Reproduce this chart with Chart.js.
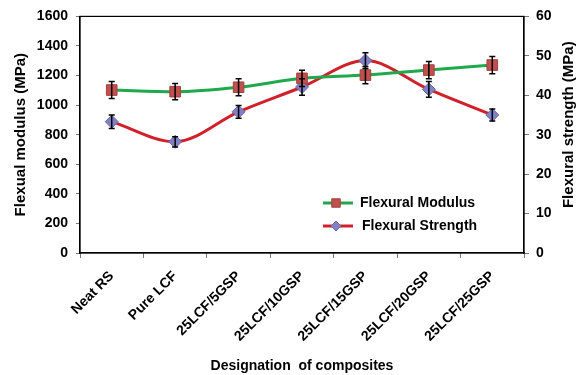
<!DOCTYPE html>
<html>
<head>
<meta charset="utf-8">
<script src="https://cdn.jsdelivr.net/npm/chart.js@4"></script>
<style>
  html, body { margin: 0; padding: 0; background: #fff; }
  #wrap { width: 576px; height: 375px; }
</style>
</head>
<body>
<div id="wrap"><canvas id="chart" width="576" height="375"></canvas></div>
<script>
const categories = ["Neat RS", "Pure LCF", "25LCF/5GSP", "25LCF/10GSP", "25LCF/15GSP", "25LCF/20GSP", "25LCF/25GSP"];
const modulus = [1102, 1091, 1121, 1181, 1203, 1237, 1271];
const modulusErr = [58, 55, 58, 55, 58, 58, 58];
const strength = [33.3, 28.2, 35.8, 42.1, 48.8, 41.5, 35.0];
const strengthErr = [1.7, 1.3, 1.6, 2.1, 2.0, 2.0, 1.5];

const FAMILY = "'Liberation Sans', Arial, sans-serif";
const font = { family: FAMILY, weight: "bold" };

// error bars, drawn with the chart's own scales
const errorBars = {
  id: "errorBars",
  afterDatasetsDraw(chart) {
    const ctx = chart.ctx;
    const x = chart.scales.x;
    const sets = [[modulus, modulusErr, chart.scales.y], [strength, strengthErr, chart.scales.y1]];
    ctx.save();
    ctx.strokeStyle = "#000";
    ctx.lineWidth = 1.5;
    sets.forEach(([vals, errs, sc]) => {
      vals.forEach((v, i) => {
        const px = x.getPixelForValue(i);
        const top = sc.getPixelForValue(v + errs[i]);
        const bot = sc.getPixelForValue(v - errs[i]);
        ctx.beginPath();
        ctx.moveTo(px, top); ctx.lineTo(px, bot);
        ctx.moveTo(px - 3, top); ctx.lineTo(px + 3, top);
        ctx.moveTo(px - 3, bot); ctx.lineTo(px + 3, bot);
        ctx.stroke();
      });
    });
    ctx.restore();
  }
};

// frame, legend inside the plot, right axis title (reads bottom-up)
const frameAndLegend = {
  id: "frameAndLegend",
  afterDraw(chart) {
    const { ctx, chartArea: a } = chart;
    ctx.save();
    ctx.strokeStyle = "#000";
    ctx.lineWidth = 1.2;
    ctx.strokeRect(a.left, a.top, a.right - a.left, a.bottom - a.top);

    const items = [
      { label: "Flexural Modulus", ds: chart.data.datasets[0], y: 203, r: 6, tx: 360 },
      { label: "Flexural Strength", ds: chart.data.datasets[1], y: 226, r: 5, tx: 362 }
    ];
    items.forEach(it => {
      const x0 = 323;
      ctx.strokeStyle = it.ds.borderColor;
      ctx.lineWidth = 3;
      ctx.beginPath();
      ctx.moveTo(x0, it.y); ctx.lineTo(x0 + 30, it.y);
      ctx.stroke();
      ctx.fillStyle = it.ds.pointBackgroundColor;
      ctx.strokeStyle = it.ds.pointBorderColor;
      ctx.lineWidth = 1;
      Chart.helpers.drawPoint(ctx, { pointStyle: it.ds.pointStyle, radius: it.r, borderWidth: 1 }, x0 + 13, it.y);
      ctx.fillStyle = "#000";
      ctx.font = "bold 14px " + FAMILY;
      ctx.textBaseline = "middle";
      ctx.textAlign = "left";
      ctx.fillText(it.label, it.tx, it.y);
    });

    ctx.translate(569, (a.top + a.bottom) / 2 - 10);
    ctx.rotate(-Math.PI / 2);
    ctx.fillStyle = "#000";
    ctx.font = "bold 15px " + FAMILY;
    ctx.textAlign = "center";
    ctx.textBaseline = "middle";
    ctx.fillText("Flexural strength (MPa)", 0, 0);
    ctx.restore();
  }
};

new Chart(document.getElementById("chart"), {
  type: "line",
  data: {
    labels: categories,
    datasets: [
      {
        label: "Flexural Modulus",
        data: modulus,
        yAxisID: "y",
        borderColor: "#20a84c",
        borderWidth: 3,
        cubicInterpolationMode: "monotone",
        pointStyle: "rect",
        pointRadius: 7.5,
        pointBackgroundColor: "#c0504d",
        pointBorderColor: "#a5403d",
        pointBorderWidth: 1
      },
      {
        label: "Flexural Strength",
        data: strength,
        yAxisID: "y1",
        borderColor: "#d0202a",
        borderWidth: 3,
        cubicInterpolationMode: "monotone",
        pointStyle: "rectRot",
        pointRadius: 6.5,
        pointBackgroundColor: "#8080c4",
        pointBorderColor: "#6a6aaa",
        pointBorderWidth: 1
      }
    ]
  },
  options: {
    responsive: false,
    animation: false,
    layout: { padding: { top: 15, right: 0, left: 0, bottom: 0 } },
    plugins: { legend: { display: false }, tooltip: { enabled: false } },
    scales: {
      x: {
        offset: true,
        afterFit: s => { s.height = 122; },
        grid: { offset: true, drawOnChartArea: false, tickLength: 5, color: "#777" },
        border: { color: "#000", width: 1.2 },
        ticks: { color: "#000", font: { ...font, size: 14 }, maxRotation: 45, minRotation: 45, padding: 10 },
        title: { display: true, text: "Designation  of composites", color: "#000", font: { ...font, size: 14 }, padding: { top: 0, bottom: 0 } }
      },
      y: {
        position: "left",
        min: 0, max: 1600,
        afterFit: s => { s.width = 80; },
        ticks: { stepSize: 200, color: "#000", font: { ...font, size: 14 }, padding: 8, callback: v => String(v) },
        grid: { drawOnChartArea: false, tickLength: 4, color: "#777" },
        border: { color: "#000", width: 1.2 },
        title: { display: true, text: "Flexual modulus (MPa)", color: "#000", font: { ...font, size: 15 }, padding: { top: 12, bottom: 0 } }
      },
      y1: {
        position: "right",
        min: 0, max: 60,
        afterFit: s => { s.width = 52; },
        ticks: { stepSize: 10, color: "#000", font: { ...font, size: 14 }, padding: 7, callback: v => String(v) },
        grid: { drawOnChartArea: false, tickLength: 5, color: "#777" },
        border: { color: "#000", width: 1.2 }
      }
    }
  },
  plugins: [errorBars, frameAndLegend]
});
</script>
</body>
</html>
